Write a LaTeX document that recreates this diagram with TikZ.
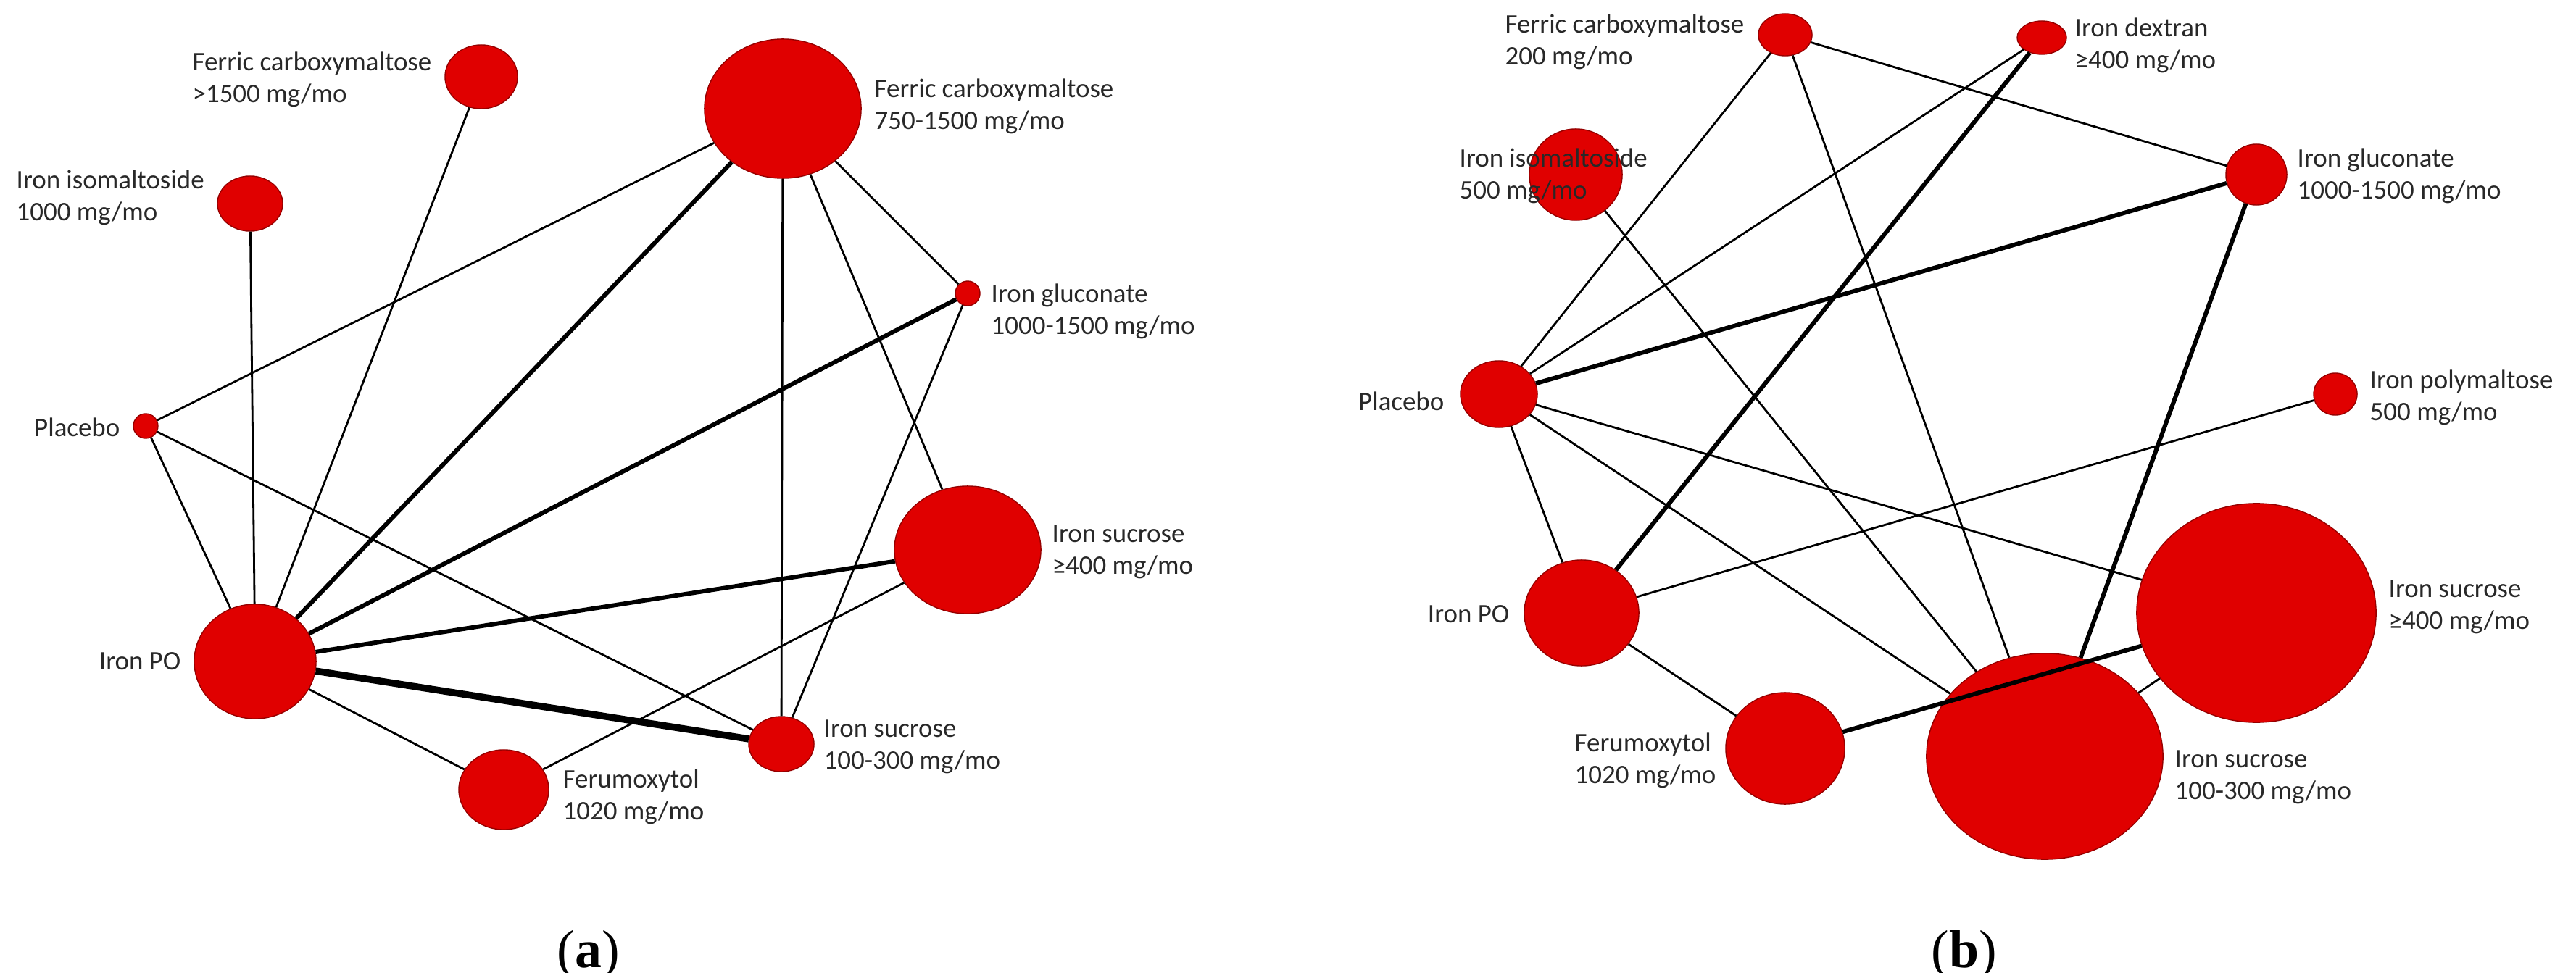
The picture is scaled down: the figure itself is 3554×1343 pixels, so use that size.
\documentclass[tikz,border=0pt]{standalone}
\usepackage{fontspec}
\usetikzlibrary{shapes.geometric}
\setmainfont{Carlito}
\newfontfamily\capfont{Liberation Serif}
\begin{document}
\begin{tikzpicture}[x=0.01cm,y=-0.01cm,
  nd/.style={ellipse,fill={rgb,255:red,224;green,0;blue,0},draw={rgb,255:red,150;green,0;blue,0},line width=0.4pt,inner sep=0pt},
  el/.style args={#1/#2}{minimum width=#1*0.02cm,minimum height=#2*0.02cm},
  lb/.style={font=\fontsize{10.5}{12.6}\selectfont,text={rgb,255:red,40;green,40;blue,40},inner sep=0pt},
  e/.style={line width=0.8pt},
  t/.style={line width=1.7pt},
  tt/.style={line width=2.7pt},
  captionlbl/.style={font=\capfont\fontsize{21}{24}\selectfont,inner sep=0pt}]
\useasboundingbox (0,0) rectangle (3554,1343);
\fill[white] (0,0) rectangle (3554,1343);
% ---------- panel (a)
\node[nd,el=50/44] (a1) at (664,106) {};
\node[nd,el=108/96] (a2) at (1080,150) {};
\node[nd,el=45/38] (a3) at (345,281) {};
\node[nd,el=17/17] (a4) at (1335,405) {};
\node[nd,el=17/17] (a5) at (201,588) {};
\node[nd,el=101/88] (a6) at (1335,759) {};
\node[nd,el=84/79] (a7) at (352,913) {};
\node[nd,el=45/38] (a8) at (1078,1027) {};
\node[nd,el=62/55] (a9) at (695,1090) {};
\draw[e] (a1) -- (a7);
\draw[e] (a2) -- (a5);
\draw[t] (a2) -- (a7);
\draw[e] (a2) -- (a4);
\draw[e] (a2) -- (a8);
\draw[e] (a2) -- (a6);
\draw[e] (a3) -- (a7);
\draw[t] (a4) -- (a7);
\draw[e] (a4) -- (a8);
\draw[e] (a5) -- (a7);
\draw[e] (a5) -- (a8);
\draw[t] (a7) -- (a6);
\draw[tt] (a7) -- (a8);
\draw[e] (a7) -- (a9);
\draw[e] (a9) -- (a6);
\node[lb,anchor=east,align=left] (la1) at (596,110) {Ferric carboxymaltose\\>1500 mg/mo};
\node[lb,anchor=west,align=left] (la2) at (1206,147) {Ferric carboxymaltose\\750-1500 mg/mo};
\node[lb,anchor=west,align=left] (la3) at (22,273) {Iron isomaltoside\\1000 mg/mo};
\node[lb,anchor=west,align=left] (la4) at (1367,430) {Iron gluconate\\1000-1500 mg/mo};
\node[lb,anchor=east] (la5) at (166,590) {Placebo};
\node[lb,anchor=east] (la7) at (250,913) {Iron PO};
\node[lb,anchor=west,align=left] (la6) at (1451,762) {Iron sucrose\\≥400 mg/mo};
\node[lb,anchor=west,align=left] (la8) at (1136,1031) {Iron sucrose\\100-300 mg/mo};
\node[lb,anchor=west,align=left] (la9) at (776,1100) {Ferumoxytol\\1020 mg/mo};
\node[captionlbl] (capa) at (812,1318) {(\textbf{a})};
% ---------- panel (b)
\node[nd,el=37/29] (b1) at (2463,48) {};
\node[nd,el=34/23] (b2) at (2817,52) {};
\node[nd,el=64/63] (b3) at (2174,241) {};
\node[nd,el=42/42] (b4) at (3113,241) {};
\node[nd,el=53/46] (b5) at (2068,544) {};
\node[nd,el=30/29] (b6) at (3222,544) {};
\node[nd,el=79/73] (b7) at (2182,846) {};
\node[nd,el=165/151] (b8) at (3113,846) {};
\node[nd,el=82/77] (b9) at (2463,1033) {};
\node[nd,el=163/142] (b10) at (2821,1044) {};
\draw[e] (b1) -- (b5);
\draw[e] (b1) -- (b4);
\draw[e] (b1) -- (b10);
\draw[e] (b2) -- (b5);
\draw[t] (b2) -- (b7);
\draw[e] (b3) -- (b10);
\draw[t] (b4) -- (b5);
\draw[t] (b4) -- (b10);
\draw[e] (b5) -- (b7);
\draw[e] (b5) -- (b8);
\draw[e] (b5) -- (b10);
\draw[e] (b6) -- (b7);
\draw[e] (b7) -- (b9);
\draw[t] (b9) -- (b8);
\draw[e] (b8) -- (b10);
\node[lb,anchor=east,align=left] (lb1) at (2407,58) {Ferric carboxymaltose\\200 mg/mo};
\node[lb,anchor=west,align=left] (lb2) at (2862,63) {Iron dextran\\≥400 mg/mo};
\node[lb,anchor=west,align=left] (lb3) at (2013,243) {Iron isomaltoside\\500 mg/mo};
\node[lb,anchor=west,align=left] (lb4) at (3169,243) {Iron gluconate\\1000-1500 mg/mo};
\node[lb,anchor=east] (lb5) at (1993,554) {Placebo};
\node[lb,anchor=west,align=left] (lb6) at (3269,549) {Iron polymaltose\\500 mg/mo};
\node[lb,anchor=east] (lb7) at (2083,848) {Iron PO};
\node[lb,anchor=west,align=left] (lb8) at (3295,838) {Iron sucrose\\≥400 mg/mo};
\node[lb,anchor=east,align=left] (lb9) at (2368,1050) {Ferumoxytol\\1020 mg/mo};
\node[lb,anchor=west,align=left] (lb10) at (3000,1073) {Iron sucrose\\100-300 mg/mo};
\node[captionlbl] (capb) at (2710,1318) {(\textbf{b})};
\end{tikzpicture}
\end{document}
